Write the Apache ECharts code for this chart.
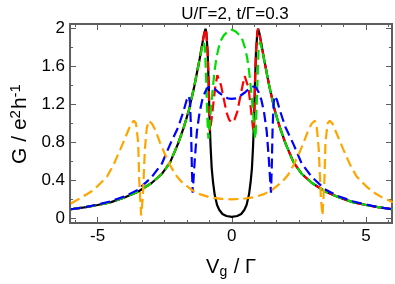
<!DOCTYPE html>
<html>
<head>
<meta charset="utf-8">
<script src="https://cdn.jsdelivr.net/npm/echarts@6/dist/echarts.min.js"></script>
<style>
html,body{margin:0;padding:0;background:#fff;}
#c{width:395px;height:284px;}
</style>
</head>
<body>
<div id="c"></div>
<script>
// ---- data ----
const blackVg = [-6.0,-5.5,-5.0,-4.5,-4.0,-3.5,-3.0,-2.6,-2.3,-2.0,-1.8,-1.6,-1.4,-1.2,-1.1,-1.03,-0.98,-0.95,-0.9,-0.86,-0.83,-0.79,-0.75,-0.7,-0.64,-0.55,-0.47,-0.35,-0.2,0,0.2,0.35,0.47,0.55,0.64,0.7,0.75,0.79,0.83,0.86,0.9,0.95,0.98,1.03,1.1,1.2,1.4,1.6,1.8,2.0,2.3,2.6,3.0,3.5,4.0,4.5,5.0,5.5,6.0];
const blackG  = [0.095,0.115,0.14,0.17,0.22,0.28,0.37,0.47,0.59,0.79,0.95,1.14,1.39,1.68,1.84,1.95,2.0,1.96,1.75,1.40,1.05,0.75,0.53,0.38,0.25,0.14,0.09,0.045,0.024,0.015,0.024,0.045,0.09,0.14,0.25,0.38,0.53,0.75,1.05,1.40,1.75,1.96,2.0,1.95,1.84,1.68,1.39,1.14,0.95,0.79,0.59,0.47,0.37,0.28,0.22,0.17,0.14,0.115,0.095];

const redVg = [-6.0,-5.5,-5.0,-4.5,-4.0,-3.5,-3.0,-2.6,-2.3,-2.0,-1.8,-1.6,-1.4,-1.2,-1.1,-1.03,-0.98,-0.95,-0.9,-0.86,-0.835,-0.82,-0.8,-0.76,-0.7,-0.62,-0.54,-0.48,-0.4,-0.3,-0.2,-0.1,0,0.1,0.2,0.3,0.4,0.48,0.54,0.62,0.7,0.76,0.8,0.82,0.835,0.86,0.9,0.95,0.98,1.03,1.1,1.2,1.4,1.6,1.8,2.0,2.3,2.6,3.0,3.5,4.0,4.5,5.0,5.5,6.0];
const redG  = [0.095,0.115,0.14,0.17,0.22,0.28,0.37,0.47,0.59,0.79,0.95,1.14,1.39,1.68,1.84,1.95,2.0,1.96,1.75,1.40,1.0,0.92,0.92,1.03,1.18,1.38,1.51,1.50,1.40,1.26,1.12,1.04,1.01,1.04,1.12,1.26,1.40,1.50,1.51,1.38,1.18,1.03,0.92,0.92,1.0,1.40,1.75,1.96,2.0,1.95,1.84,1.68,1.39,1.14,0.95,0.79,0.59,0.47,0.37,0.28,0.22,0.17,0.14,0.115,0.095];

const greenVg = [-6.0,-5.5,-5.0,-4.5,-4.0,-3.5,-3.0,-2.6,-2.3,-2.0,-1.8,-1.6,-1.4,-1.2,-1.1,-1.05,-1.0,-0.97,-0.93,-0.89,-0.87,-0.84,-0.8,-0.76,-0.7,-0.64,-0.58,-0.5,-0.4,-0.3,-0.15,0,0.15,0.3,0.4,0.5,0.58,0.64,0.7,0.76,0.8,0.84,0.87,0.89,0.93,0.97,1.0,1.05,1.1,1.2,1.4,1.6,1.8,2.0,2.3,2.6,3.0,3.5,4.0,4.5,5.0,5.5,6.0];
const greenG  = [0.095,0.115,0.14,0.17,0.22,0.28,0.37,0.47,0.59,0.79,0.95,1.14,1.39,1.68,1.81,1.86,1.80,1.57,1.22,0.90,0.84,0.92,1.08,1.22,1.40,1.56,1.68,1.79,1.88,1.93,1.97,1.99,1.97,1.93,1.88,1.79,1.68,1.56,1.40,1.22,1.08,0.92,0.84,0.90,1.22,1.57,1.80,1.86,1.81,1.68,1.39,1.14,0.95,0.79,0.59,0.47,0.37,0.28,0.22,0.17,0.14,0.115,0.095];

const blueVg = [-6.0,-5.5,-5.0,-4.5,-4.0,-3.5,-3.0,-2.6,-2.3,-2.0,-1.8,-1.68,-1.6,-1.56,-1.52,-1.49,-1.46,-1.43,-1.38,-1.3,-1.2,-1.1,-1.0,-0.9,-0.8,-0.65,-0.5,-0.3,-0.15,0,0.15,0.3,0.5,0.65,0.8,0.9,1.0,1.1,1.2,1.3,1.38,1.43,1.46,1.49,1.52,1.56,1.6,1.68,1.8,2.0,2.3,2.6,3.0,3.5,4.0,4.5,5.0,5.5,6.0];
const blueG  = [0.095,0.115,0.145,0.18,0.23,0.30,0.43,0.58,0.78,0.96,1.13,1.25,1.29,1.22,0.95,0.55,0.27,0.40,0.62,0.92,1.12,1.25,1.33,1.38,1.39,1.37,1.33,1.29,1.265,1.26,1.265,1.29,1.33,1.37,1.39,1.38,1.33,1.25,1.12,0.92,0.62,0.40,0.27,0.55,0.95,1.22,1.29,1.25,1.13,0.96,0.78,0.58,0.43,0.30,0.23,0.18,0.145,0.115,0.095];

const orangeVg = [-6.0,-5.6,-5.25,-5.0,-4.65,-4.4,-4.15,-3.9,-3.75,-3.65,-3.57,-3.49,-3.45,-3.38,-3.32,-3.24,-3.17,-3.10,-2.98,-2.85,-2.68,-2.5,-2.3,-2.1,-1.88,-1.5,-1.2,-0.8,-0.4,0,0.4,0.8,1.2,1.5,1.88,2.1,2.3,2.5,2.68,2.85,2.98,3.10,3.17,3.24,3.32,3.38,3.45,3.49,3.57,3.65,3.75,3.9,4.15,4.4,4.65,5.0,5.25,5.6,6.0];
const orangeG  = [0.155,0.22,0.28,0.34,0.44,0.57,0.73,0.90,1.0,1.03,1.0,0.80,0.39,0.03,0.21,0.73,0.95,1.03,1.0,0.93,0.80,0.68,0.56,0.46,0.386,0.30,0.255,0.22,0.205,0.20,0.205,0.22,0.255,0.30,0.386,0.46,0.56,0.68,0.80,0.93,1.0,1.03,0.95,0.73,0.21,0.03,0.39,0.80,1.0,1.03,1.0,0.90,0.73,0.57,0.44,0.34,0.28,0.22,0.17];

const xMajorTicks = [-5, 0, 5];
const xMinorTicks = [-5.8333, -4.1667, -3.3333, -2.5, -1.6667, -0.8333, 0.8333, 1.6667, 2.5, 3.3333, 4.1667, 5.8333];
const yMajorTicks = [0, 0.4, 0.8, 1.2, 1.6, 2.0];
const yMinorTicks = [0.2, 0.6, 1.0, 1.4, 1.8];

const titleText = 'U/Γ=2, t/Γ=0.3';

// ---- chart ----
const zip = (xs, ys) => xs.map((x, i) => [x, ys[i]]);
const FONT = 'Liberation Sans, Arial, Helvetica, sans-serif';
const AX = '#5e5e5e';
const XMIN = -6.03, XMAX = 5.97, YMIN = -0.05, YMAX = 2.05;

function xAx(pos, ticks, len, labels, extra) {
  return Object.assign({
    type: 'value', min: XMIN, max: XMAX, position: pos, offset: 0,
    axisLine: {show: false, onZero: false}, splitLine: {show: false},
    axisTick: {show: true, inside: true, length: len, customValues: ticks, lineStyle: {color: AX, width: 1}},
    axisLabel: labels ? {show: true, customValues: ticks, fontSize: 17, color: '#000', fontFamily: FONT, margin: 5} : {show: false}
  }, extra || {});
}
function yAx(pos, ticks, len, labels, extra) {
  return Object.assign({
    type: 'value', min: YMIN, max: YMAX, position: pos, offset: 0,
    axisLine: {show: false, onZero: false}, splitLine: {show: false},
    axisTick: {show: true, inside: true, length: len, customValues: ticks, lineStyle: {color: AX, width: 1}},
    axisLabel: labels ? {show: true, customValues: ticks, fontSize: 17, color: '#000', fontFamily: FONT, margin: 5} : {show: false}
  }, extra || {});
}

const dash = [10, 5];
function ser(name, xs, ys, color, type, z) {
  return {
    name, type: 'line', data: zip(xs, ys), showSymbol: false, symbol: 'none',
    xAxisIndex: 0, yAxisIndex: 0, z: z, clip: true, animation: false,
    lineStyle: {color, width: 2.2, type: type}
  };
}

const chart = echarts.init(document.getElementById('c'), null, {renderer: 'canvas'});
chart.setOption({
  animation: false,
  backgroundColor: '#fff',
  title: {
    text: titleText, left: 230, top: 1, textAlign: 'center',
    textStyle: {fontFamily: FONT, fontSize: 17, fontWeight: 'normal', color: '#000'}
  },
  grid: {left: 67, top: 24, right: 3, bottom: 59, show: true, borderColor: AX, borderWidth: 2, backgroundColor: 'transparent'},
  xAxis: [
    xAx('bottom', xMajorTicks, 6, true, {
      name: '{a|V}{s|g}{a| / Γ}', nameLocation: 'middle', nameGap: 33,
      nameTextStyle: {rich: {
        a: {fontFamily: FONT, fontSize: 20, color: '#000'},
        s: {fontFamily: FONT, fontSize: 14, color: '#000', verticalAlign: 'bottom', padding: [9, 1, 0, 0]}
      }}
    }),
    xAx('bottom', xMinorTicks, 3, false),
    xAx('top', xMajorTicks, 6, false),
    xAx('top', xMinorTicks, 3, false)
  ],
  yAxis: [
    yAx('left', yMajorTicks, 6, true, {
      name: '{a|G / e}{s|2}{a|h}{s|-1}', nameLocation: 'middle', nameGap: 36, nameRotate: 90,
      nameTextStyle: {rich: {
        a: {fontFamily: FONT, fontSize: 21, color: '#000'},
        s: {fontFamily: FONT, fontSize: 15, color: '#000', verticalAlign: 'top', padding: [0, 1, 9, 0]}
      }}
    }),
    yAx('left', yMinorTicks, 3, false),
    yAx('right', yMajorTicks, 6, false),
    yAx('right', yMinorTicks, 3, false)
  ],
  series: [
    ser('black', blackVg, blackG, '#000000', 'solid', 2),
    ser('red', redVg, redG, '#ff0000', dash, 3),
    ser('green', greenVg, greenG, '#00dd00', dash, 4),
    ser('blue', blueVg, blueG, '#0000ff', dash, 5),
    ser('orange', orangeVg, orangeG, '#ffa500', dash, 6)
  ]
});
</script>
</body>
</html>
